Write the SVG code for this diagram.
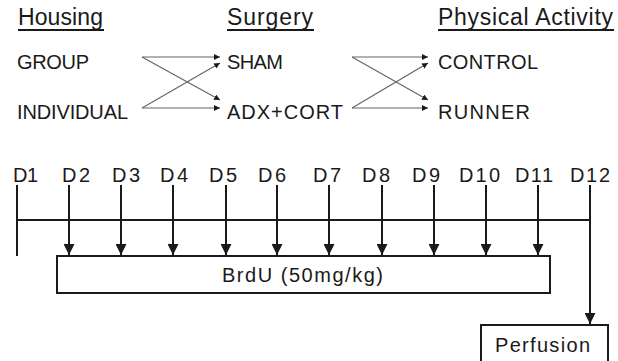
<svg xmlns="http://www.w3.org/2000/svg" width="618" height="361" viewBox="0 0 618 361">
<style>
text{font-family:"Liberation Sans",Arial,sans-serif;fill:#1a1a1a}
.h{font-size:23px}
.t{font-size:20px}
.u{stroke:#1a1a1a;stroke-width:2}
.c{stroke:#666;stroke-width:1.2;fill:none;marker-end:url(#sa)}
.k{stroke:#1a1a1a;stroke-width:2;fill:none}
.a{stroke:#1a1a1a;stroke-width:2;fill:none;marker-end:url(#ba)}
.box{fill:#fff;stroke:#1a1a1a;stroke-width:2}
</style>
<defs>
<marker id="sa" viewBox="0 0 10 10" refX="10" refY="5" markerWidth="6" markerHeight="6" markerUnits="userSpaceOnUse" orient="auto"><path d="M0,0L10,5L0,10z" fill="#1a1a1a"/></marker>
<marker id="ba" viewBox="0 0 10 10" refX="10" refY="5" markerWidth="11" markerHeight="11" markerUnits="userSpaceOnUse" orient="auto"><path d="M0,0L10,5L0,10z" fill="#1a1a1a"/></marker>
</defs>
<g id="headers">
<text class="h" x="18" y="25" textLength="85" lengthAdjust="spacing">Housing</text>
<line class="u" x1="18" y1="30" x2="104" y2="30"/>
<text class="h" x="227" y="25" textLength="86" lengthAdjust="spacing">Surgery</text>
<line class="u" x1="227" y1="30" x2="314" y2="30"/>
<text class="h" x="438" y="25" textLength="175" lengthAdjust="spacing">Physical Activity</text>
<line class="u" x1="438" y1="30" x2="614" y2="30"/>
</g>
<g id="group"><text class="t" x="17" y="69" textLength="72" lengthAdjust="spacing">GROUP</text></g>
<g id="individual"><text class="t" x="17" y="119" textLength="111" lengthAdjust="spacing">INDIVIDUAL</text></g>
<g id="sham"><text class="t" x="227" y="69" textLength="56" lengthAdjust="spacing">SHAM</text></g>
<g id="adxcort"><text class="t" x="227" y="119" textLength="116" lengthAdjust="spacing">ADX+CORT</text></g>
<g id="control"><text class="t" x="438" y="69" textLength="100" lengthAdjust="spacing">CONTROL</text></g>
<g id="runner"><text class="t" x="438" y="119" textLength="92" lengthAdjust="spacing">RUNNER</text></g>
<g id="days">
<text class="t" x="13" y="182" textLength="25" lengthAdjust="spacing">D1</text>
<text class="t" x="62" y="182" textLength="28" lengthAdjust="spacing">D2</text>
<text class="t" x="112" y="182" textLength="28" lengthAdjust="spacing">D3</text>
<text class="t" x="160" y="182" textLength="28" lengthAdjust="spacing">D4</text>
<text class="t" x="209" y="182" textLength="28" lengthAdjust="spacing">D5</text>
<text class="t" x="258" y="182" textLength="28" lengthAdjust="spacing">D6</text>
<text class="t" x="313" y="182" textLength="28" lengthAdjust="spacing">D7</text>
<text class="t" x="362" y="182" textLength="28" lengthAdjust="spacing">D8</text>
<text class="t" x="412" y="182" textLength="28" lengthAdjust="spacing">D9</text>
<text class="t" x="459" y="182" textLength="41" lengthAdjust="spacing">D10</text>
<text class="t" x="515" y="182" textLength="38" lengthAdjust="spacing">D11</text>
<text class="t" x="570" y="182" textLength="40" lengthAdjust="spacing">D12</text>
</g>
<g id="brdu">
<rect class="box" x="57" y="256" width="493" height="37"/>
<text class="t" x="222" y="282" textLength="161" lengthAdjust="spacing">BrdU (50mg/kg)</text>
</g>
<g id="perfusion">
<rect class="box" x="481" y="325" width="127" height="45"/>
<text class="t" x="495" y="352" textLength="95" lengthAdjust="spacing">Perfusion</text>
</g>
<g id="connectors">
<line class="c" x1="142" y1="57" x2="220" y2="57"/>
<line class="c" x1="142" y1="57" x2="220" y2="100"/>
<line class="c" x1="142" y1="108" x2="220" y2="63"/>
<line class="c" x1="142" y1="108" x2="220" y2="108"/>
<line class="c" x1="352" y1="57" x2="428" y2="57"/>
<line class="c" x1="352" y1="57" x2="428" y2="100"/>
<line class="c" x1="352" y1="108" x2="428" y2="63"/>
<line class="c" x1="352" y1="108" x2="428" y2="108"/>
<line class="k" x1="17" y1="185" x2="17" y2="256"/>
<line class="k" x1="16" y1="220" x2="591" y2="220"/>
<line class="a" x1="69" y1="185" x2="69" y2="255"/>
<line class="a" x1="121" y1="185" x2="121" y2="255"/>
<line class="a" x1="173" y1="185" x2="173" y2="255"/>
<line class="a" x1="226" y1="185" x2="226" y2="255"/>
<line class="a" x1="277" y1="185" x2="277" y2="255"/>
<line class="a" x1="329" y1="185" x2="329" y2="255"/>
<line class="a" x1="382" y1="185" x2="382" y2="255"/>
<line class="a" x1="434" y1="185" x2="434" y2="255"/>
<line class="a" x1="486" y1="185" x2="486" y2="255"/>
<line class="a" x1="538" y1="185" x2="538" y2="255"/>
<line class="a" x1="590" y1="185" x2="590" y2="324"/>
</g>
</svg>
